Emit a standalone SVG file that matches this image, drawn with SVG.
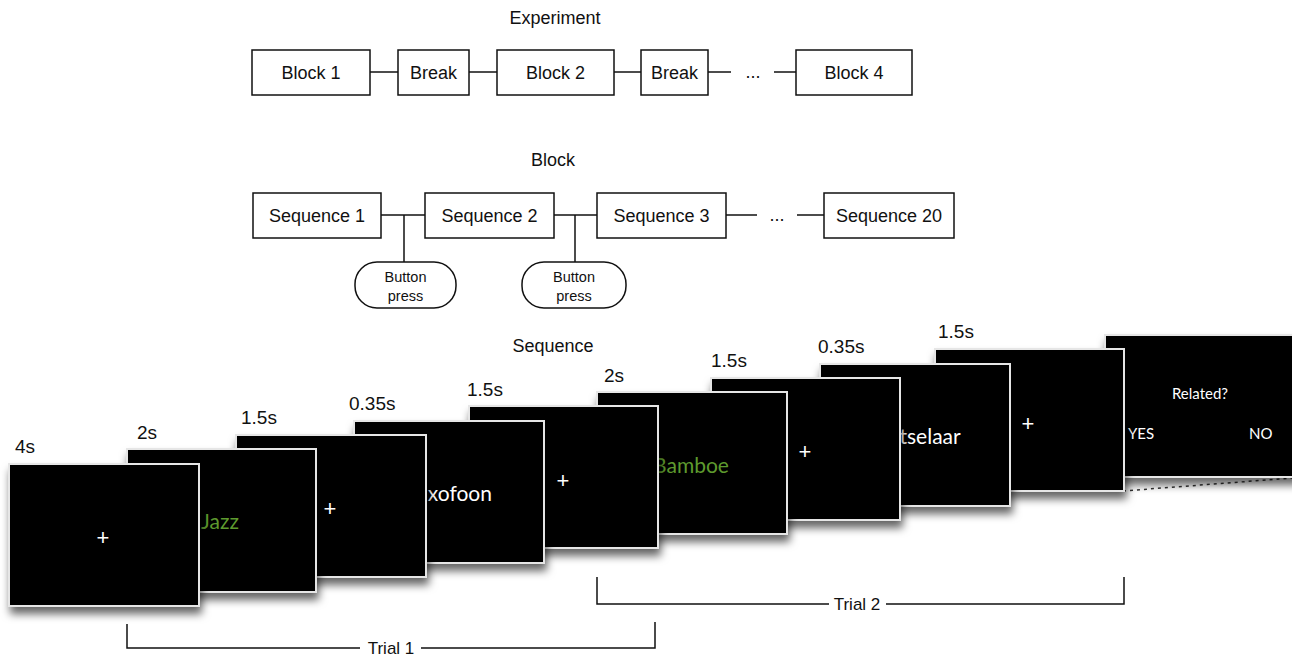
<svg xmlns="http://www.w3.org/2000/svg" width="1292" height="657" viewBox="0 0 1292 657">
<style>
.t{font-family:"Liberation Sans",Arial,sans-serif;fill:#111;}
.h{font-size:18px;text-anchor:middle;}
.bx{fill:#fff;stroke:#111;stroke-width:1.5;}
.bt{font-size:18px;text-anchor:middle;}
.bp{font-size:14.5px;text-anchor:middle;}
.ln{stroke:#111;stroke-width:1.5;fill:none;}
.tm{font-size:19px;}
.scr{fill:#000;stroke:#e6e6e6;stroke-width:2;filter:url(#sh);}
.cross{font-family:"Liberation Sans",Arial,sans-serif;font-size:22px;fill:#fff;text-anchor:middle;}
.w{font-family:Lato,"Open Sans",sans-serif;font-size:21px;text-anchor:middle;}
.wh{fill:#fff;}
.gr{fill:#5e9a2e;}
.sm{font-family:Lato,"Open Sans",sans-serif;font-size:15px;fill:#fff;}
</style>
<defs>
<filter id="sh" x="-10%" y="-10%" width="130%" height="140%">
<feDropShadow dx="2" dy="7" stdDeviation="4.5" flood-color="#000" flood-opacity="0.6"/>
</filter>
</defs>
<rect width="1292" height="657" fill="#fff"/>

<!-- Experiment -->
<text class="t h" x="555" y="24">Experiment</text>
<g id="connectors">
<line class="ln" x1="370" y1="72" x2="398" y2="72"/>
<line class="ln" x1="469" y1="72" x2="497" y2="72"/>
<line class="ln" x1="614" y1="72" x2="641" y2="72"/>
<line class="ln" x1="708" y1="72" x2="731" y2="72"/>
<line class="ln" x1="774" y1="72" x2="796" y2="72"/>
<line class="ln" x1="381" y1="215" x2="425" y2="215"/>
<line class="ln" x1="404" y1="215" x2="404" y2="262"/>
<line class="ln" x1="554" y1="215" x2="597" y2="215"/>
<line class="ln" x1="575" y1="215" x2="575" y2="262"/>
<line class="ln" x1="726" y1="215" x2="757" y2="215"/>
<line class="ln" x1="797" y1="215" x2="824" y2="215"/>
<line x1="1123" y1="491" x2="1292" y2="478" stroke="#333" stroke-width="1.5" stroke-dasharray="3 4"/>
</g>
<text class="t" x="753" y="78" style="font-size:18px;text-anchor:middle">...</text>
<g id="block1"><rect class="bx" x="252" y="50" width="118" height="45"/><text class="t bt" x="311" y="79">Block 1</text></g>
<g id="break1"><rect class="bx" x="398" y="50" width="71" height="45"/><text class="t bt" x="433.5" y="79">Break</text></g>
<g id="block2"><rect class="bx" x="497" y="50" width="117" height="45"/><text class="t bt" x="555.5" y="79">Block 2</text></g>
<g id="break2"><rect class="bx" x="641" y="50" width="67" height="45"/><text class="t bt" x="674.5" y="79">Break</text></g>
<g id="block4"><rect class="bx" x="796" y="50" width="116" height="45"/><text class="t bt" x="854" y="79">Block 4</text></g>

<!-- Block -->
<text class="t h" x="553" y="166">Block</text>
<g id="seq1"><rect class="bx" x="253" y="193" width="128" height="45"/><text class="t bt" x="317" y="222">Sequence 1</text></g>
<g id="seq2"><rect class="bx" x="425" y="193" width="129" height="45"/><text class="t bt" x="489.5" y="222">Sequence 2</text></g>
<g id="seq3"><rect class="bx" x="597" y="193" width="129" height="45"/><text class="t bt" x="661.5" y="222">Sequence 3</text></g>
<text class="t" x="777" y="221" style="font-size:18px;text-anchor:middle">...</text>
<g id="seq20"><rect class="bx" x="824" y="193" width="130" height="45"/><text class="t bt" x="889" y="222">Sequence 20</text></g>
<g id="button1"><rect class="bx" x="355" y="262" width="101" height="46" rx="22" ry="22"/><text class="t bp" x="405.5" y="282">Button</text><text class="t bp" x="405.5" y="301">press</text></g>
<g id="button2"><rect class="bx" x="522" y="262" width="104" height="46" rx="22" ry="22"/><text class="t bp" x="574" y="282">Button</text><text class="t bp" x="574" y="301">press</text></g>

<!-- Sequence -->
<text class="t h" x="553" y="352">Sequence</text>

<g id="screen10"><rect class="scr" x="1105" y="335" width="192" height="142"/>
<text class="sm" x="1200" y="399" text-anchor="middle">Related?</text>
<text class="sm" x="1128" y="439">YES</text>
<text class="sm" x="1249" y="439">NO</text></g>

<g id="screen9"><rect class="scr" x="935" y="349" width="189" height="142"/><text class="cross" x="1028" y="431">+</text>
<text class="t tm" x="938" y="338">1.5s</text></g>
<g id="screen8"><rect class="scr" x="820" y="364" width="190" height="142"/><text class="w wh" x="915" y="444">Metselaar</text>
<text class="t tm" x="818" y="353">0.35s</text></g>
<g id="screen7"><rect class="scr" x="711" y="378" width="189" height="142"/><text class="cross" x="805" y="459">+</text>
<text class="t tm" x="711" y="367">1.5s</text></g>
<g id="screen6"><rect class="scr" x="597" y="392" width="190" height="142"/><text class="w gr" x="691" y="473">Bamboe</text>
<text class="t tm" x="604" y="382">2s</text></g>
<g id="screen5"><rect class="scr" x="469" y="406" width="189" height="142"/><text class="cross" x="563" y="488">+</text>
<text class="t tm" x="467" y="396">1.5s</text></g>
<g id="screen4"><rect class="scr" x="354" y="421" width="190" height="142"/><text class="w wh" x="449" y="501">Saxofoon</text>
<text class="t tm" x="349" y="410">0.35s</text></g>
<g id="screen3"><rect class="scr" x="236" y="435" width="190" height="142"/><text class="cross" x="330" y="516">+</text>
<text class="t tm" x="241" y="424">1.5s</text></g>
<g id="screen2"><rect class="scr" x="127" y="449" width="189" height="143"/><text class="w gr" x="220" y="529">Jazz</text>
<text class="t tm" x="137" y="439">2s</text></g>
<g id="screen1"><rect class="scr" x="9" y="464" width="190" height="142"/><text class="cross" x="103" y="545">+</text>
<text class="t tm" x="15" y="453">4s</text></g>

<!-- Trial brackets -->
<g id="trial1">
<path class="ln" d="M127,624 V648 H360"/>
<path class="ln" d="M421,648 H655 V622"/>
<text class="t" x="391" y="654" style="font-size:17px;text-anchor:middle">Trial 1</text>
</g>
<g id="trial2">
<path class="ln" d="M597,577 V604 H829"/>
<path class="ln" d="M886,604 H1124 V577"/>
<text class="t" x="857" y="610" style="font-size:17px;text-anchor:middle">Trial 2</text>
</g>
</svg>
